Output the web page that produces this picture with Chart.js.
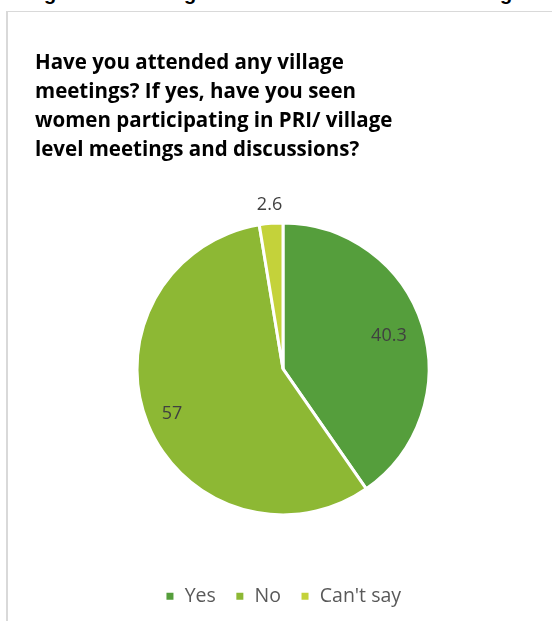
<!DOCTYPE html>
<html>
<head>
<meta charset="utf-8">
<script src="https://cdn.jsdelivr.net/npm/chart.js@4"></script>
<style>
    html, body { margin: 0; padding: 0; background: #fff; }
    #wrap { position: relative; width: 552px; height: 621px; overflow: hidden; }
    .frame-top { position: absolute; left: 6px; top: 11px; width: 546px; height: 1px; background: #d9d9d9; }
    .frame-left { position: absolute; left: 6px; top: 11px; width: 2px; height: 610px; background: #d9d9d9; }
    .cut { position: absolute; top: -17px; font: bold 20px "Liberation Sans", sans-serif; line-height: 20px; color: #000; }
    canvas { position: absolute; left: 0; top: 0; }
</style>
</head>
<body>
<div id="wrap">
    <span class="cut" style="left:44px">g</span>
    <span class="cut" style="left:184px">g</span>
    <span class="cut" style="left:500px">g</span>
    <div class="frame-top"></div>
    <div class="frame-left"></div>
    <canvas id="pie" width="552" height="621"></canvas>
</div>
<script>
const titleLines = [
    'Have you attended any village',
    'meetings? If yes, have you seen',
    'women participating in PRI/ village',
    'level meetings and discussions?'
];
const categories = ['Yes', 'No', "Can't say"];
const shares = [40.3, 57, 2.6];
const colours = ['#559e3c', '#8db834', '#c4d23a'];

const FONT = '"Open Sans", sans-serif';

// writes each share next to its slice; small slices get their label outside
const sliceLabels = {
    id: 'sliceLabels',
    afterDatasetsDraw(chart) {
        const ctx = chart.ctx;
        const meta = chart.getDatasetMeta(0);
        ctx.save();
        ctx.font = '18px ' + FONT;
        ctx.fillStyle = '#404040';
        ctx.textAlign = 'center';
        ctx.textBaseline = 'middle';
        meta.data.forEach((arc, i) => {
            const p = arc.getProps(['x', 'y', 'startAngle', 'endAngle', 'outerRadius'], true);
            const mid = (p.startAngle + p.endAngle) / 2;
            const k = shares[i] < 5 ? 1.13 : (i === 0 ? 0.76 : 0.82);
            const x = p.x + Math.cos(mid) * p.outerRadius * k;
            const y = p.y + Math.sin(mid) * p.outerRadius * k;
            ctx.fillText(String(shares[i]), x, y);
        });
        ctx.restore();
    }
};

new Chart(document.getElementById('pie'), {
    type: 'pie',
    data: {
        labels: categories,
        datasets: [{
            data: shares,
            backgroundColor: colours,
            borderColor: '#ffffff',
            borderWidth: 3,
            radius: 146
        }]
    },
    options: {
        responsive: false,
        animation: false,
        layout: { padding: { left: 35, right: 21, top: 0, bottom: 5 } },
        plugins: {
            tooltip: { enabled: false },
            title: {
                display: true,
                text: titleLines,
                align: 'start',
                color: '#000000',
                font: { family: FONT, size: 20.5, weight: 'bold', lineHeight: 1.43 },
                padding: { top: 48, bottom: 5 }
            },
            legend: {
                position: 'bottom',
                labels: {
                    color: '#595959',
                    font: { family: FONT, size: 19.5 },
                    boxWidth: 10,
                    boxHeight: 10,
                    padding: 19
                }
            }
        }
    },
    plugins: [sliceLabels]
});
</script>
</body>
</html>
